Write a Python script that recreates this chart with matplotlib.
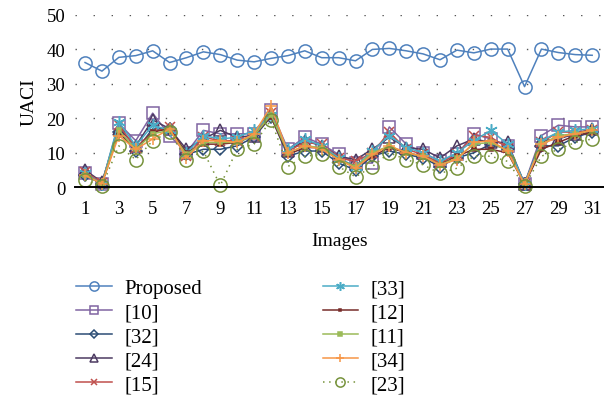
import numpy as np
import matplotlib
matplotlib.use("Agg")
import matplotlib.pyplot as plt

plt.rcParams['font.family'] = ['Liberation Serif', 'DejaVu Serif']

images = np.arange(1, 32)

proposed = [36.2, 33.7, 37.7, 38.2, 39.6, 36.2, 37.6, 39.3, 38.5, 36.9,
            36.4, 37.4, 38.2, 39.6, 37.6, 37.6, 36.7, 40.0, 40.3, 39.6,
            38.7, 37.0, 39.8, 39.0, 40.1, 40.1, 29.2, 40.1, 39.1, 38.5, 38.3]
ref10 = [4.0, 1.0, 18.5, 13.5, 21.5, 15.0, 10.0, 16.5, 15.5, 15.5,
         15.5, 22.5, 11.0, 14.5, 12.5, 9.5, 7.0, 7.0, 17.5, 12.5,
         10.0, 7.5, 9.5, 15.5, 14.0, 12.0, 1.0, 15.0, 18.0, 17.5, 17.5]
ref32 = [3.5, 1.0, 16.0, 10.5, 17.0, 17.0, 9.5, 11.0, 11.0, 12.0,
         14.5, 20.5, 9.0, 10.5, 10.5, 7.0, 5.0, 9.0, 10.5, 9.5,
         8.5, 6.0, 8.5, 10.0, 12.5, 11.0, 0.8, 12.0, 12.0, 14.5, 16.0]
ref24 = [5.0, 1.5, 17.0, 12.0, 19.5, 17.0, 11.0, 14.0, 16.5, 14.5,
         15.0, 21.5, 10.5, 13.5, 12.0, 9.0, 8.0, 11.0, 14.5, 11.5,
         11.0, 8.5, 12.0, 14.0, 13.0, 13.0, 1.0, 13.5, 14.0, 15.5, 17.0]
ref15 = [4.5, 1.2, 18.0, 11.5, 16.0, 17.5, 9.0, 14.5, 13.5, 13.5,
         15.0, 21.5, 10.5, 13.0, 12.5, 8.5, 7.5, 10.0, 16.0, 11.0,
         9.5, 7.0, 9.5, 15.0, 14.5, 11.5, 1.0, 13.0, 16.0, 16.0, 16.5]
ref33 = [4.0, 1.0, 19.0, 12.0, 18.0, 16.5, 10.0, 15.0, 14.0, 14.5,
         16.5, 21.0, 11.0, 14.0, 12.0, 8.5, 6.0, 10.5, 15.0, 11.5,
         10.0, 7.5, 10.0, 13.5, 16.5, 12.5, 1.0, 13.5, 16.0, 16.5, 17.0]
ref12 = [3.5, 1.0, 16.0, 11.0, 16.0, 17.0, 10.0, 12.5, 12.5, 13.0,
         15.0, 20.5, 9.5, 11.5, 11.5, 8.0, 6.0, 9.0, 11.5, 10.0,
         9.0, 6.5, 9.0, 11.0, 11.0, 10.0, 0.8, 11.0, 13.0, 15.0, 16.0]
ref11 = [3.5, 1.0, 16.5, 11.0, 15.5, 16.5, 9.5, 13.0, 13.0, 13.0,
         15.0, 21.0, 10.0, 12.0, 11.5, 8.0, 6.0, 10.0, 12.0, 10.0,
         9.0, 6.5, 8.5, 12.5, 13.0, 10.5, 0.8, 12.5, 15.0, 15.5, 16.5]
ref34 = [3.5, 1.0, 15.0, 11.0, 14.0, 17.0, 8.5, 13.5, 13.5, 13.0,
         15.5, 23.5, 10.0, 12.0, 11.0, 8.0, 5.5, 9.5, 12.0, 10.0,
         9.0, 6.5, 8.0, 13.0, 13.5, 10.5, 0.8, 12.5, 14.5, 15.5, 16.5]
ref23 = [2.0, 0.3, 12.0, 8.0, 13.5, 16.0, 8.0, 10.5, 0.5, 11.0,
         12.5, 19.5, 6.0, 9.0, 9.5, 6.0, 3.0, 6.0, 10.0, 8.0,
         6.5, 4.0, 5.5, 9.0, 9.0, 7.5, 0.3, 9.0, 11.0, 13.0, 14.0]

# label, values, colour, marker, marker size, line style, filled marker
series = [
    ("Proposed", proposed, "#4F81BD", "o", 9.5, "-", False),
    ("[10]", ref10, "#8064A2", "s", 9, "-", False),
    ("[32]", ref32, "#2C4D75", "D", 6, "-", False),
    ("[24]", ref24, "#4D3B62", "^", 8, "-", False),
    ("[15]", ref15, "#C0504D", "x", 7, "-", False),
    ("[33]", ref33, "#4BACC6", (6, 2, 0), 9, "-", False),
    ("[12]", ref12, "#772C2A", "s", 3, "-", True),
    ("[11]", ref11, "#9BBB59", "s", 3.5, "-", True),
    ("[34]", ref34, "#F79646", "+", 9, "-", False),
    ("[23]", ref23, "#77933C", "o", 9.5, (0, (1, 3)), False),
]

fig = plt.figure(figsize=(6.04, 4.10), dpi=100)
ax = fig.add_axes([0.124, 0.541, 0.876, 0.42])

handles = []
for label, vals, col, mk, ms, ls, filled in series:
    h, = ax.plot(images, vals, color=col, linestyle=ls, linewidth=1.1,
                 marker=mk, markersize=ms, markeredgewidth=1.1,
                 markerfacecolor=col if filled else "none",
                 markeredgecolor=col, label=label, clip_on=False)
    handles.append(h)

ax.set_xlim(0.4, 31.7)
ax.set_ylim(0, 50)
ax.set_xticks(np.arange(1, 32, 2))
ax.set_yticks(np.arange(0, 51, 10))
ax.tick_params(axis="both", length=0, labelsize=13.5)
ax.tick_params(axis="y", pad=7)
ax.tick_params(axis="x", pad=9)

for y in range(10, 51, 10):
    ax.axhline(y, color="#555555", linewidth=1.0, linestyle=(0, (1, 12)), zorder=0)

for side in ["left", "right", "top"]:
    ax.spines[side].set_visible(False)
ax.spines["bottom"].set_linewidth(1.4)
ax.spines["bottom"].set_color("black")

ax.set_xlabel("Images", fontsize=14, labelpad=11)
ax.set_ylabel("UACI", fontsize=14, labelpad=6)

fig.legend(handles=handles, loc="upper left", bbox_to_anchor=(0.095, 0.364),
           ncol=2, frameon=False, fontsize=15, handlelength=1.7,
           handletextpad=0.6, columnspacing=5.8, labelspacing=0.22,
           markerscale=0.7)

fig.savefig("out.png", dpi=100)
